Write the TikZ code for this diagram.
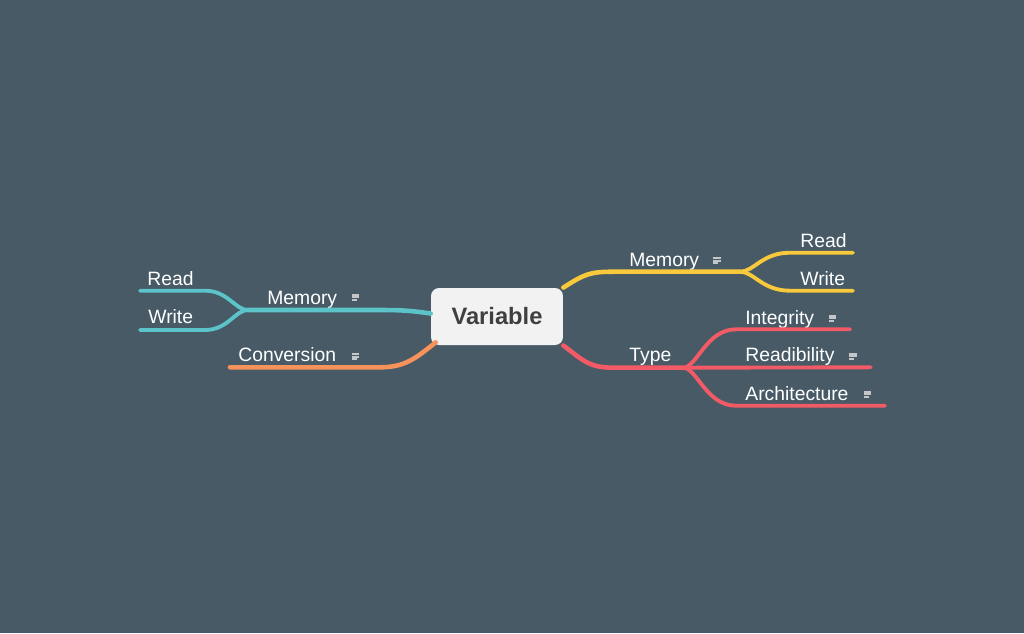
\documentclass[tikz,border=0pt]{standalone}
\usepackage{fontspec}
\setmainfont{Liberation Sans}
\usepackage{xcolor}
\usepackage{tikz}
\usetikzlibrary{positioning}

\definecolor{bgslate}{HTML}{475A66}
\definecolor{mmyellow}{HTML}{F8C93C}
\definecolor{mmred}{HTML}{F25A66}
\definecolor{mmteal}{HTML}{5CC4C8}
\definecolor{mmorange}{HTML}{F7935A}
\definecolor{notegray}{HTML}{C4C6C8}

% small note icon, left/top corner given in pixels
\newcommand{\noteicon}[2]{%
  \fill[notegray] (#1,#2) rectangle ++(7.5,2);
  \fill[notegray] (#1,#2+2.6) rectangle ++(7.5,2);
  \fill[notegray] (#1,#2+5.2) rectangle ++(5,2);
}

\begin{document}
\begin{tikzpicture}[
  x=0.02cm, y=-0.02cm,
  line cap=round,
  font=\fontsize{11}{13}\selectfont
]
\tikzset{
    rootbox/.style = {rectangle, rounded corners=0.16cm, fill=white!95!black, text=black!75,
                      minimum width=2.64cm, minimum height=1.14cm, inner sep=0pt,
                      font=\fontsize{13.5}{16}\selectfont\bfseries},
    topic/.style = {text=white, inner sep=0pt, anchor=base west},
    mainline/.style = {line width=2.6pt},
    subline/.style = {line width=2.2pt},
}
\useasboundingbox[fill=bgslate] (0,0) rectangle (1024,633);

\node[rootbox] (var) at (497,316.5) {Variable};

% right side
\coordinate (memfork) at (740,271.7);
\coordinate (typefork) at (683,367.7);
\coordinate (rreadend) at (853,252.7);
\coordinate (rwriteend) at (853,290.7);
\coordinate (integend) at (850,329.3);
\coordinate (readend) at (870.7,367.3);
\coordinate (archend) at (885,405.7);

\node[topic] (memR) at (629,266) {Memory};
\node[topic] (rreadR) at (800,247) {Read};
\node[topic] (rwriteR) at (800,285) {Write};
\node[topic] (typeR) at (629,361) {Type};
\node[topic] (integ) at (745,324) {Integrity};
\node[topic] (readab) at (745,361.7) {Readibility};
\node[topic] (arch) at (745,400) {Architecture};

\draw[mainline, mmyellow] (var.north east) ++(0,-0.1) .. controls +(22,-14) and (590,271.7) .. (615,271.7) -- (memfork);
\draw[subline, mmyellow] (memfork) .. controls +(14,0) and (762,252.7) .. (790,252.7) -- (rreadend);
\draw[subline, mmyellow] (memfork) .. controls +(14,0) and (762,290.7) .. (790,290.7) -- (rwriteend);

\draw[mainline, mmred] (var.south east) ++(0,0.1) .. controls +(22,17) and (590,367.7) .. (615,367.7) -- (typefork);
\draw[subline, mmred] (typefork) .. controls +(14,0) and (706,329.3) .. (736,329.3) -- (integend);
\draw[subline, mmred] (typefork) -- (readend);
\draw[subline, mmred] (typefork) .. controls +(14,0) and (706,405.7) .. (736,405.7) -- (archend);

% left side
\coordinate (memforkL) at (248,310);
\coordinate (lreadend) at (140,290.7);
\coordinate (lwriteend) at (140,330);
\coordinate (convend) at (230,367.3);

\node[topic] (memL) at (267,304.3) {Memory};
\node[topic] (lreadL) at (147,285) {Read};
\node[topic] (lwriteL) at (148,323.3) {Write};
\node[topic] (conv) at (238,361.7) {Conversion};

\draw[mainline, mmteal] (var.west) ++(0,-3) .. controls (410,310.5) and (400,310) .. (380,310) -- (memforkL);
\draw[subline, mmteal] (memforkL) .. controls +(-13,0) and (228,290.7) .. (205,290.7) -- (lreadend);
\draw[subline, mmteal] (memforkL) .. controls +(-13,0) and (228,330) .. (205,330) -- (lwriteend);

\draw[mainline, mmorange] (var.south west) ++(5,-3) .. controls +(-20,16) and (405,367.3) .. (380,367.3) -- (convend);

\noteicon{713}{257}
\noteicon{828.5}{314.5}
\noteicon{849}{352.5}
\noteicon{863.5}{390.5}
\noteicon{351.5}{293.5}
\noteicon{351.5}{353}
\end{tikzpicture}
\end{document}
